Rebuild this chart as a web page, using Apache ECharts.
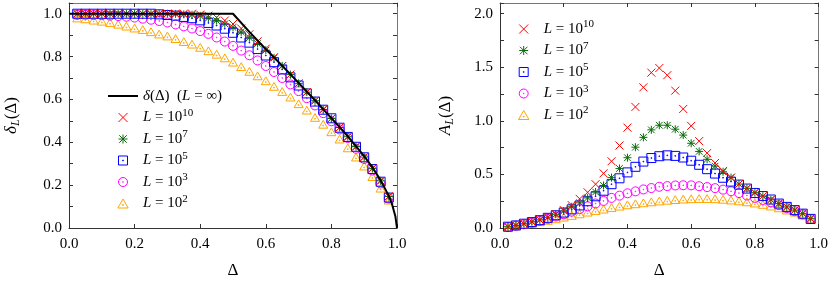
<!DOCTYPE html>
<html><head><meta charset="utf-8">
<script src="https://cdn.jsdelivr.net/npm/echarts@6/dist/echarts.min.js"></script>
<style>html,body{margin:0;padding:0;background:#fff}#c{width:831px;height:284px}</style>
</head><body><div id="c"></div>
<script>
// ---- data ----
const deltas = [0.025,0.05,0.075,0.1,0.125,0.15,0.175,0.2,0.225,0.25,0.275,0.3,0.325,0.35,0.375,0.4,0.425,0.45,0.475,0.5,0.525,0.55,0.575,0.6,0.625,0.65,0.675,0.7,0.725,0.75,0.775,0.8,0.825,0.85,0.875,0.9,0.925,0.95,0.975];
const infX = [0, 0.5, 0.55, 0.6, 0.65, 0.7, 0.75, 0.8, 0.85, 0.9, 0.925, 0.95, 0.975, 0.984, 0.995, 1.0];
const infY = [1, 1, 0.915, 0.835, 0.757, 0.677, 0.596, 0.513, 0.428, 0.335, 0.283, 0.223, 0.15, 0.116, 0.055, 0];
const dL10 = [1,1,1,1,1,1,1,1,1,1,1,1,1,1,1.0,0.996,0.991,0.982,0.968,0.952,0.931,0.904,0.871,0.837,0.797,0.756,0.716,0.675,0.634,0.594,0.553,0.511,0.469,0.426,0.380,0.331,0.278,0.220,0.148];
const dL7 = [1,1,1,1,1,1,1,1,1,1,1,1,0.999,0.997,0.995,0.990,0.980,0.968,0.953,0.936,0.915,0.888,0.861,0.830,0.794,0.757,0.716,0.675,0.634,0.594,0.553,0.511,0.469,0.426,0.380,0.331,0.278,0.220,0.147];
const dL5 = [1,1,1,1,1,1,1,1,1,1,0.997,0.994,0.991,0.985,0.979,0.969,0.957,0.945,0.930,0.911,0.889,0.865,0.835,0.805,0.774,0.740,0.703,0.665,0.628,0.590,0.552,0.512,0.468,0.425,0.379,0.330,0.275,0.216,0.142];
const dL3 = [0.995,0.995,0.994,0.993,0.991,0.989,0.986,0.982,0.977,0.972,0.966,0.959,0.950,0.941,0.931,0.919,0.906,0.889,0.870,0.850,0.828,0.806,0.782,0.756,0.728,0.700,0.670,0.639,0.606,0.572,0.536,0.498,0.460,0.420,0.370,0.322,0.268,0.208,0.138];
const dL2 = [0.980,0.976,0.970,0.965,0.959,0.951,0.942,0.933,0.926,0.916,0.905,0.896,0.884,0.870,0.858,0.843,0.827,0.811,0.794,0.774,0.753,0.731,0.710,0.687,0.661,0.637,0.611,0.580,0.550,0.516,0.484,0.449,0.415,0.374,0.331,0.289,0.240,0.186,0.130];
const A10 = [0.012,0.024,0.040,0.058,0.076,0.100,0.130,0.168,0.214,0.272,0.333,0.409,0.510,0.623,0.770,0.937,1.130,1.313,1.450,1.493,1.426,1.282,1.111,0.953,0.811,0.699,0.607,0.533,0.471,0.410,0.370,0.330,0.297,0.264,0.228,0.197,0.167,0.134,0.087];
const A7 = [0.012,0.024,0.040,0.058,0.076,0.100,0.128,0.159,0.198,0.235,0.281,0.336,0.397,0.470,0.556,0.656,0.754,0.846,0.916,0.959,0.959,0.922,0.867,0.791,0.715,0.641,0.577,0.525,0.470,0.410,0.370,0.330,0.297,0.264,0.228,0.197,0.167,0.134,0.087];
const A5 = [0.012,0.024,0.040,0.055,0.073,0.095,0.119,0.144,0.174,0.211,0.250,0.296,0.348,0.409,0.464,0.519,0.571,0.620,0.653,0.670,0.678,0.673,0.658,0.628,0.590,0.549,0.508,0.469,0.433,0.405,0.368,0.327,0.298,0.266,0.228,0.197,0.167,0.134,0.085];
const A3 = [0.009,0.021,0.034,0.049,0.067,0.085,0.107,0.128,0.153,0.177,0.202,0.229,0.253,0.281,0.302,0.324,0.342,0.360,0.373,0.385,0.391,0.397,0.399,0.398,0.390,0.382,0.372,0.358,0.343,0.326,0.303,0.281,0.262,0.240,0.213,0.185,0.157,0.127,0.083];
const A2 = [0.009,0.019,0.032,0.045,0.058,0.071,0.086,0.101,0.117,0.132,0.148,0.163,0.176,0.191,0.204,0.216,0.226,0.235,0.244,0.252,0.259,0.265,0.270,0.273,0.275,0.275,0.273,0.268,0.261,0.253,0.244,0.233,0.220,0.205,0.188,0.168,0.148,0.120,0.083];
const xTickLabels = ['0.0','0.2','0.4','0.6','0.8','1.0'];
const leftYTickLabels = ['0.0','0.2','0.4','0.6','0.8','1.0'];
const rightYTickLabels = ['0.0','0.5','1.0','1.5','2.0'];

// ---- styling ----
const FONT = 'Liberation Serif';
const SYM = {
  cross: 'path://M0,0L10,10M10,0L0,10',
  star: 'path://M0,0L10,10M10,0L0,10M5,-1L5,11M-1,5L11,5',
  square: 'path://M0,0L10,0L10,10L0,10ZM4.6,4.6L5.4,4.6L5.4,5.4L4.6,5.4Z',
  circle: 'path://M0,5A5,5,0,1,0,10,5A5,5,0,1,0,0,5ZM4.6,5A0.4,0.4,0,1,0,5.4,5A0.4,0.4,0,1,0,4.6,5Z',
  tri: 'path://M5,0L10,8.66L0,8.66ZM4.6,5.4L5.4,5.4L5.4,6.2L4.6,6.2Z',
  bar: 'path://M0,0L30,0L30,2L0,2Z'
};
const COL = {L10:'#ff0000', L7:'#0b6b0b', L5:'#0000ff', L3:'#ff00ff', L2:'#ffa500'};

function pick(labels, v, step) {
  const k = Math.round(v / step);
  if (Math.abs(v - k * step) > 1e-6) return '';
  return labels[k] !== undefined ? labels[k] : '';
}

function xAx(grid, pos) {
  const bottom = pos === 'bottom';
  return {
    type: 'value', gridIndex: grid, position: pos, min: 0, max: 1, interval: 0.2,
    axisLine: {show: true, onZero: false, lineStyle: {color: bottom ? '#333' : '#777', width: 1}},
    axisTick: {show: true, inside: true, length: 4, lineStyle: {color: '#333'}},
    axisLabel: {show: bottom, margin: 9, color: '#000', fontFamily: FONT, fontSize: 15,
      formatter: v => pick(xTickLabels, v, 0.2)},
    splitLine: {show: false},
    name: bottom ? 'Δ' : '', nameLocation: 'middle', nameGap: 34,
    nameTextStyle: {color: '#000', fontFamily: FONT, fontSize: 17}
  };
}
function yAx(grid, pos, max, interval, labels, step, name, gap) {
  const left = pos === 'left';
  return {
    type: 'value', gridIndex: grid, position: pos, min: 0, max: max, interval: interval,
    axisLine: {show: true, onZero: false, lineStyle: {color: left ? '#333' : '#777', width: 1}},
    axisTick: {show: true, inside: true, length: 4, lineStyle: {color: '#333'}},
    axisLabel: {show: left, margin: 7, color: '#000', fontFamily: FONT, fontSize: 15,
      formatter: v => pick(labels, v, step)},
    splitLine: {show: false},
    name: left ? name : '', nameLocation: 'middle', nameGap: gap, nameRotate: 90,
    nameTextStyle: {color: '#000', fontFamily: FONT, fontSize: 17,
      rich: {
        i: {fontStyle: 'italic', fontFamily: FONT, fontSize: 17, color: '#000'},
        sub: {fontStyle: 'italic', fontFamily: FONT, fontSize: 12, color: '#000', padding: [8, 0, 0, 0]},
        n: {fontFamily: FONT, fontSize: 17, color: '#000'}
      }}
  };
}
function zip(xs, ys) { return xs.map((x, i) => [x, ys[i]]); }
function sc(name, grid, ys, sym, col, size) {
  return {
    type: 'scatter', name: name, xAxisIndex: grid * 2, yAxisIndex: grid * 2,
    data: zip(deltas, ys), symbol: sym, symbolSize: size, symbolKeepAspect: true,
    itemStyle: {color: 'rgba(0,0,0,0)', borderColor: col, borderWidth: 1, opacity: 1},
    emphasis: {disabled: true}, silent: true
  };
}
const legendNames = {
  inf: '{i|δ}(Δ)  ({i|L} = ∞)',
  L10: '{i|L} = 10{sup|10}', L7: '{i|L} = 10{sup|7}', L5: '{i|L} = 10{sup|5}',
  L3: '{i|L} = 10{sup|3}', L2: '{i|L} = 10{sup|2}'
};
function legName(n) { return legendNames[n.replace(/^R/, 'L')]; }
const legText = {
  color: '#000', fontFamily: FONT, fontSize: 15, lineHeight: 20,
  rich: {
    i: {fontStyle: 'italic', fontFamily: FONT, fontSize: 15, lineHeight: 20, color: '#000'},
    sup: {fontFamily: FONT, fontSize: 11, lineHeight: 11, padding: [0, 0, 9, 0], color: '#000'}
  }
};
const legCommon = {
  orient: 'vertical', itemWidth: 30, itemHeight: 9, itemGap: 1.5,
  formatter: legName, textStyle: legText, selectedMode: false,
  itemStyle: {borderWidth: 1}
};

const option = {
  animation: false,
  backgroundColor: '#fff',
  grid: [
    {left: 69, width: 328, top: 3, height: 229},
    {left: 500, width: 319, top: 3, height: 229}
  ],
  xAxis: [xAx(0, 'bottom'), xAx(0, 'top'), xAx(1, 'bottom'), xAx(1, 'top')],
  yAxis: [
    yAx(0, 'left', 1.05, 0.1, leftYTickLabels, 0.2, '{i|δ}{sub|L}{n|(Δ)}', 47),
    yAx(0, 'right', 1.05, 0.1, leftYTickLabels, 0.2, '', 0),
    yAx(1, 'left', 2.1, 0.25, rightYTickLabels, 0.5, '{i|A}{sub|L}{n|(Δ)}', 44),
    yAx(1, 'right', 2.1, 0.25, rightYTickLabels, 0.5, '', 0)
  ],
  legend: [
    Object.assign({}, legCommon, {
      data: [{name: 'inf', icon: SYM.bar, itemStyle: {color: '#000', borderWidth: 0}}, 'L10','L7','L5','L3','L2'],
      left: 103, top: 81}),
    Object.assign({}, legCommon, {
      data: ['R10','R7','R5','R3','R2'], left: 513, top: 14})
  ],
  series: [
    {type: 'line', name: 'inf', xAxisIndex: 0, yAxisIndex: 0, data: zip(infX, infY),
     symbol: 'none', symbolKeepAspect: true, lineStyle: {color: '#000', width: 2},
     itemStyle: {color: '#000'}, silent: true},
    sc('L2', 0, dL2, SYM.tri, COL.L2, 9),
    sc('L3', 0, dL3, SYM.circle, COL.L3, 9),
    sc('L5', 0, dL5, SYM.square, COL.L5, 9),
    sc('L7', 0, dL7, SYM.star, COL.L7, 8),
    sc('L10', 0, dL10, SYM.cross, COL.L10, 8),
    sc('R2', 1, A2, SYM.tri, COL.L2, 9),
    sc('R3', 1, A3, SYM.circle, COL.L3, 9),
    sc('R5', 1, A5, SYM.square, COL.L5, 9),
    sc('R7', 1, A7, SYM.star, COL.L7, 8),
    sc('R10', 1, A10, SYM.cross, COL.L10, 8)
  ]
};
const chart = echarts.init(document.getElementById('c'), null, {renderer: 'canvas'});
chart.setOption(option);
</script></body></html>
